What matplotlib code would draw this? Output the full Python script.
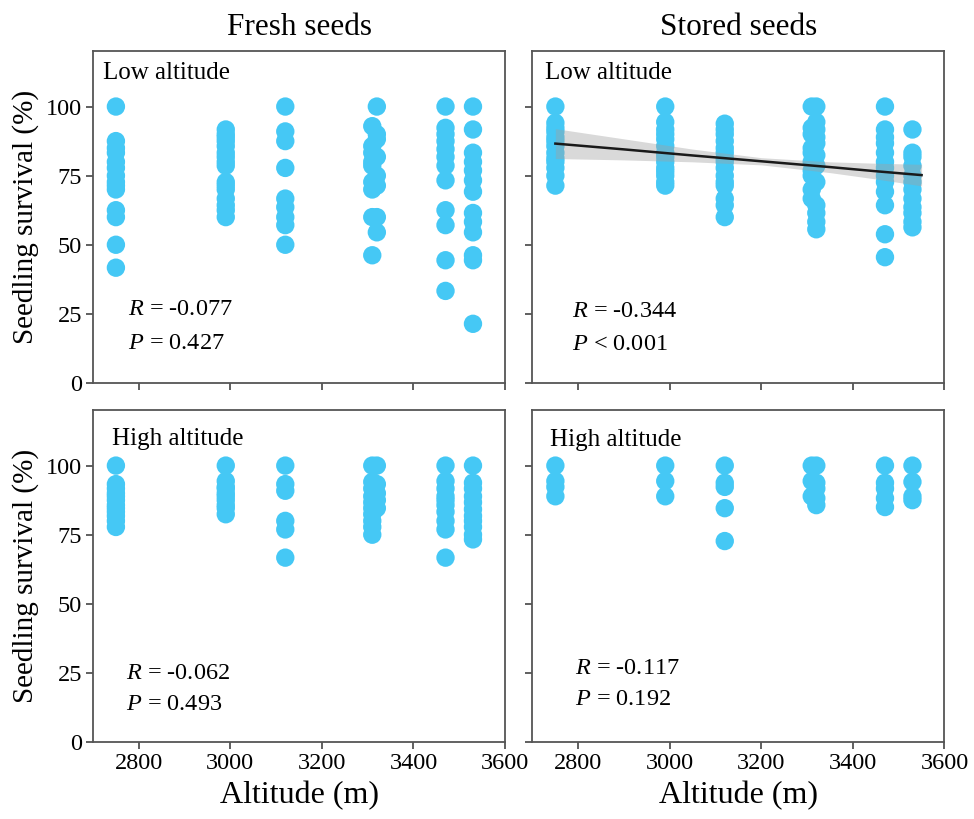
import numpy as np
import matplotlib
matplotlib.use("Agg")
import matplotlib.pyplot as plt

plt.rcParams['font.family'] = ['Liberation Serif', 'DejaVu Serif']
plt.rcParams['mathtext.fontset'] = 'custom'
plt.rcParams['mathtext.rm'] = 'Liberation Serif'
plt.rcParams['mathtext.it'] = 'Liberation Serif:italic'

# survival values (%) per site altitude
fresh_low = {
    2750: [100, 87.5, 85, 83.3, 80, 77.8, 75, 72.7, 71.4, 70, 62.5, 60, 50, 41.7],
    2990: [91.7, 90, 88.9, 87.5, 85.7, 83.3, 81.8, 80, 78.6, 72.7, 71.4, 70, 66.7, 64.3, 62.5, 60],
    3120: [100, 91, 87.5, 77.8, 66.7, 63.6, 60, 57.1, 50],
    3310: [92.9, 85.7, 83.3, 80, 78.6, 72.7, 70, 60, 46.2],
    3320: [100, 90, 88.2, 81.8, 75, 71.4, 60, 54.5],
    3470: [100, 92.3, 90, 87.5, 84.6, 81.8, 78.6, 73.3, 62.5, 57.1, 44.4, 33.3],
    3530: [100, 91.7, 83.3, 80, 76.9, 73.3, 69.2, 61.5, 58.3, 54.5, 46.2, 44.4, 21.4],
}
stored_low = {
    2750: [100, 94.1, 92.3, 90.9, 88.9, 87.5, 85.7, 83.3, 81.3, 80, 77.8, 75, 71.4],
    2990: [100, 94.4, 91.7, 90, 88.2, 85.7, 83.3, 81.8, 80, 77.8, 76.5, 75, 72.7, 71.4],
    3120: [93.8, 91.7, 90, 87.5, 85, 83.3, 81.3, 80, 77.8, 75, 72.7, 71.4, 66.7, 64.3, 60],
    3310: [100, 92.3, 90, 85, 83.3, 80, 76.9, 75, 70, 66.7],
    3320: [100, 94.4, 91.7, 88.9, 86.7, 82.4, 78.6, 72.7, 64.3, 61.5, 58.3, 55.6],
    3470: [100, 91.7, 88.9, 86.7, 83.3, 80, 77.8, 75, 72.7, 69.2, 64.3, 53.8, 45.5],
    3530: [91.7, 83.3, 81.8, 78.6, 75, 72.7, 70, 66.7, 63.6, 61.5, 58.3, 56.3],
}
fresh_high = {
    2750: [100, 93.3, 91.7, 90, 88.9, 87.5, 85.7, 84.6, 83.3, 81.8, 80, 77.8],
    2990: [100, 94.4, 92.3, 91.7, 90, 88.9, 87.5, 85.7, 84.6, 82.4],
    3120: [100, 93.3, 90.9, 80, 76.9, 66.7],
    3310: [100, 94.1, 91.7, 88.9, 86.7, 84.6, 82.4, 80, 77.8, 75],
    3320: [100, 93.3, 90, 87.5, 84.6],
    3470: [100, 94.4, 91.7, 88.9, 87.5, 85.7, 83.3, 80, 76.9, 66.7],
    3530: [100, 93.8, 91.7, 88.9, 86.7, 84.2, 81.8, 80, 77.8, 75, 73.3],
}
stored_high = {
    2750: [100, 94.4, 92.3, 88.9],
    2990: [100, 94.4, 88.9],
    3120: [100, 93.8, 92.3, 84.6, 72.7],
    3310: [100, 94.4, 88.9],
    3320: [100, 93.8, 91.7, 88.2, 85.7],
    3470: [100, 93.8, 91.7, 88.2, 85],
    3530: [100, 94.1, 88.9, 87.5],
}

# fitted line and 95% band for stored seeds, low altitude
fit_x = [2750, 2900, 3050, 3200, 3350, 3450, 3550]
fit_y = [86.6, 84.5, 82.3, 80.2, 78.1, 76.6, 75.2]
fit_lo = [81.2, 80.7, 80.0, 78.9, 76.1, 73.8, 71.3]
fit_hi = [92.0, 88.3, 84.6, 81.5, 80.0, 79.5, 79.1]

stats = [["-0.077", "= 0.427"], ["-0.344", "< 0.001"],
         ["-0.062", "= 0.493"], ["-0.117", "= 0.192"]]
panel_data = [fresh_low, stored_low, fresh_high, stored_high]
labels = ["Low altitude", "Low altitude", "High altitude", "High altitude"]

dot = '#45C8F5'
fig = plt.figure(figsize=(9.74, 8.19), dpi=100)
W, H = 0.423, 0.405
pos = [(0.0955, 0.5324), (0.5467, 0.5324), (0.0955, 0.094), (0.5467, 0.094)]
lab_xy = [(0.024, 0.935), (0.03, 0.935), (0.045, 0.915), (0.043, 0.91)]
st_xy = [(0.085, 0.22, 0.12), (0.095, 0.215, 0.117), (0.08, 0.208, 0.112), (0.103, 0.223, 0.127)]

axes = []
for i in range(4):
    ax = fig.add_axes([pos[i][0], pos[i][1], W, H])
    axes.append(ax)
    d = panel_data[i]
    for alt, vals in d.items():
        ax.scatter([alt] * len(vals), vals, s=175, color=dot, edgecolors='none', zorder=2)
    if i == 1:
        ax.fill_between(fit_x, fit_lo, fit_hi, color='#a0a0a0', alpha=0.4, lw=0, zorder=3)
        ax.plot(fit_x, fit_y, color='#1a1a1a', lw=1.8, zorder=4)
    ax.set_xlim(2700, 3600)
    ax.set_ylim(0, 120)
    ax.set_xticks([2800, 3000, 3200, 3400, 3600])
    ax.set_yticks([0, 25, 50, 75, 100])
    ax.tick_params(direction='out', length=5, width=1.2, color='#444444',
                   labelsize=17.5, pad=3)
    for sp in ax.spines.values():
        sp.set_color('#555555')
        sp.set_linewidth(1.3)
    if i < 2:
        ax.tick_params(labelbottom=False)
    else:
        ax.set_xlabel("Altitude (m)", fontsize=23, labelpad=5)
    if i % 2 == 1:
        ax.tick_params(labelleft=False)
    else:
        ax.set_ylabel("Seedling survival (%)", fontsize=21, labelpad=5)
    ax.text(lab_xy[i][0], lab_xy[i][1], labels[i], transform=ax.transAxes,
            fontsize=18, va='center', ha='left')
    sx, ry, py = st_xy[i]
    ax.text(sx, ry, r"$R$ = " + stats[i][0], transform=ax.transAxes,
            fontsize=17.5, va='center', ha='left')
    ax.text(sx, py, r"$P$ " + stats[i][1], transform=ax.transAxes,
            fontsize=17.5, va='center', ha='left')

axes[0].set_title("Fresh seeds", fontsize=22.5, pad=12)
axes[1].set_title("Stored seeds", fontsize=22.5, pad=12)

fig.savefig("out.png", dpi=100)
